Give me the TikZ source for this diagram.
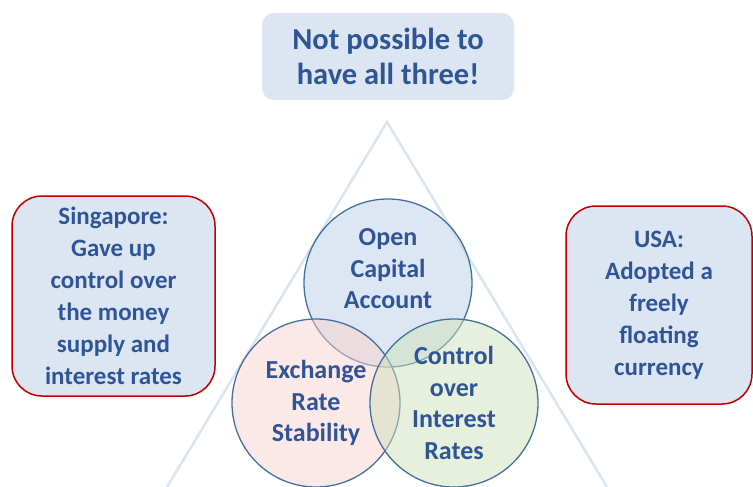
\documentclass[tikz,border=0pt]{standalone}
\usepackage{fontspec}
\setmainfont{Carlito}
\definecolor{inkblue}{HTML}{2F5597}
\definecolor{boxfill}{HTML}{DCE6F2}
\definecolor{boxred}{HTML}{C00000}
\definecolor{ringline}{HTML}{41719C}
\definecolor{capblue}{HTML}{BBD0E8}
\definecolor{ratepink}{HTML}{F9D1CD}
\definecolor{ctrlgreen}{HTML}{CDE1BB}
\definecolor{trilight}{HTML}{DAE5F2}

\tikzset{
  txt/.style={align=center, text=inkblue, font=\bfseries\fontsize{25}{32}\selectfont},
  note/.style={txt, rounded corners=30pt, fill=boxfill, draw=boxred, line width=1.5pt, inner sep=0pt},
  ring/.style={circle, draw=ringline, line width=1.3pt, fill opacity=.5, minimum size=168pt, inner sep=0pt},
  ringtxt/.style={txt, font=\bfseries\fontsize{26}{31.5}\selectfont},
}

\begin{document}
\begin{tikzpicture}[x=1pt, y=-1pt]
\useasboundingbox (0,0) rectangle (753,487);

% triangle behind everything
\coordinate (apex) at (387,122);
\draw[trilight, line width=2.5pt] (167,487) -- (apex) -- (607,487);

% headline
\node[txt, font=\bfseries\fontsize{30.5}{35}\selectfont, rounded corners=12pt, fill=boxfill, minimum width=252pt, minimum height=87pt, inner sep=0pt] (head) at (388,56.5) {Not possible to\\have all three!};

% country examples
\node[note, minimum width=203pt, minimum height=200pt] (sing) at (113.5,296) {Singapore:\\Gave up\\control over\\the money\\supply and\\interest rates};
\node[note, minimum width=186pt, minimum height=198pt] (usa) at (659,305) {USA:\\Adopted a\\freely\\floating\\currency};

% the trilemma
\node[ring, fill=capblue] (cap) at (388,283) {};
\node[ring, fill=ratepink] (rate) at (316,403) {};
\node[ring, fill=ctrlgreen] (ctrl) at (454,403) {};

\node[ringtxt] (capt) at ([yshift=14pt]cap.center) {Open\\Capital\\Account};
\node[ringtxt] (ratet) at (rate.center) {Exchange\\Rate\\Stability};
\node[ringtxt] (ctrlt) at (ctrl.center) {Control\\over\\Interest\\Rates};
\end{tikzpicture}
\end{document}
